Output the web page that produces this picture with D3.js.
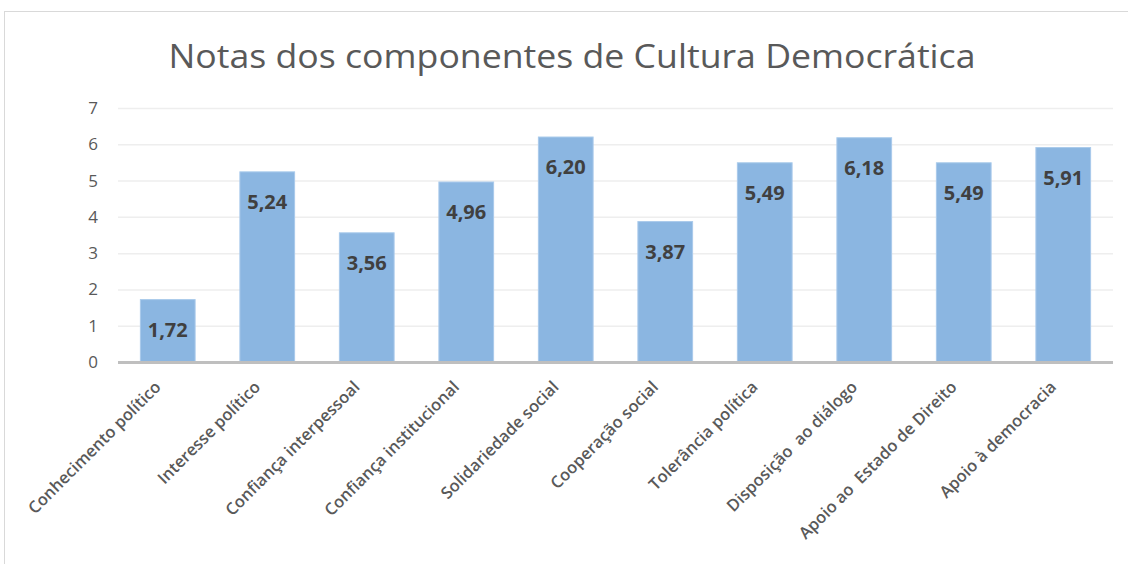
<!DOCTYPE html>
<meta charset="utf-8">
<head>
    <title>Notas dos componentes de Cultura Democrática</title>
    <script src="https://d3js.org/d3.v7.min.js"></script>
</head>
<style>
    body { margin: 0; background: #fff; }
    .grid line { stroke: #eeeeee; stroke-width: 1.5px; }
    .grid path { display: none; }
    .y text { font: 17px "Open Sans", sans-serif; fill: #595959; }
    .x text { font: 600 16.5px "Open Sans", sans-serif; fill: #595959; }
    .bar { fill: #8bb6e1; stroke: #a9caeb; stroke-width: 1px; }
    .val { font: bold 20px "Open Sans", sans-serif; fill: #404040; }
</style>
<body>
<svg width="1128" height="564"></svg>
<script>
    var categories = ["Conhecimento político", "Interesse político", "Confiança interpessoal",
        "Confiança institucional", "Solidariedade social", "Cooperação social",
        "Tolerância política", "Disposição  ao diálogo", "Apoio ao  Estado de Direito",
        "Apoio à democracia"];
    var values = [1.72, 5.24, 3.56, 4.96, 6.20, 3.87, 5.49, 6.18, 5.49, 5.91];
    var yTicks = [0, 1, 2, 3, 4, 5, 6, 7];

    var svg = d3.select("svg"),
        margin = {top: 108, right: 15, bottom: 202, left: 118},
        width = +svg.attr("width") - margin.left - margin.right,
        height = +svg.attr("height") - margin.top - margin.bottom;

    // chart frame
    svg.append("rect")
        .attr("x", 4.5).attr("y", 11.5)
        .attr("width", 1200).attr("height", 700)
        .attr("fill", "none").attr("stroke", "#d9d9d9").attr("stroke-width", 1);

    svg.append("text")
        .attr("x", 572).attr("y", 68)
        .attr("text-anchor", "middle")
        .attr("textLength", 807).attr("lengthAdjust", "spacingAndGlyphs")
        .style("font", "33px 'Open Sans', sans-serif")
        .style("fill", "#595959")
        .text("Notas dos componentes de Cultura Democrática");

    var x = d3.scaleBand().domain(categories).range([0, width]).paddingInner(0.45).paddingOuter(0.225);
    var y = d3.scaleLinear().domain([0, 7]).range([height, 0]);

    var g = svg.append("g").attr("transform", "translate(" + margin.left + "," + margin.top + ")");

    g.append("g")
        .attr("class", "grid")
        .call(d3.axisLeft(y).tickValues(yTicks).tickSize(-width).tickFormat(""));

    g.append("g")
        .attr("class", "y")
        .call(d3.axisLeft(y).tickValues(yTicks).tickSize(0).tickPadding(20).tickFormat(d3.format("d")))
        .call(function (a) { a.select(".domain").remove(); });

    g.selectAll(".bar")
        .data(values)
        .enter().append("rect")
        .attr("class", "bar")
        .attr("x", function (d, i) { return x(categories[i]); })
        .attr("width", x.bandwidth())
        .attr("y", function (d) { return y(d); })
        .attr("height", function (d) { return y(0) - y(d); });

    g.append("line")
        .attr("x1", 0).attr("x2", width)
        .attr("y1", y(0) + 0.5).attr("y2", y(0) + 0.5)
        .attr("stroke", "#bfbfbf").attr("stroke-width", 3);

    g.selectAll(".val")
        .data(values)
        .enter().append("text")
        .attr("class", "val")
        .attr("text-anchor", "middle")
        .attr("x", function (d, i) { return x(categories[i]) + x.bandwidth() / 2; })
        .attr("y", function (d) { return y(d) + 37; })
        .text(function (d) { return d3.format(".2f")(d).replace(".", ","); });

    var xAxis = g.append("g")
        .attr("class", "x")
        .attr("transform", "translate(0," + height + ")")
        .call(d3.axisBottom(x).tickSize(0).tickPadding(0));
    xAxis.select(".domain").remove();
    xAxis.selectAll("text")
        .style("white-space", "pre")
        .attr("text-anchor", "end")
        .attr("dy", "0.35em")
        .attr("transform", "translate(-10,22) rotate(-45)");
</script>
</body>
